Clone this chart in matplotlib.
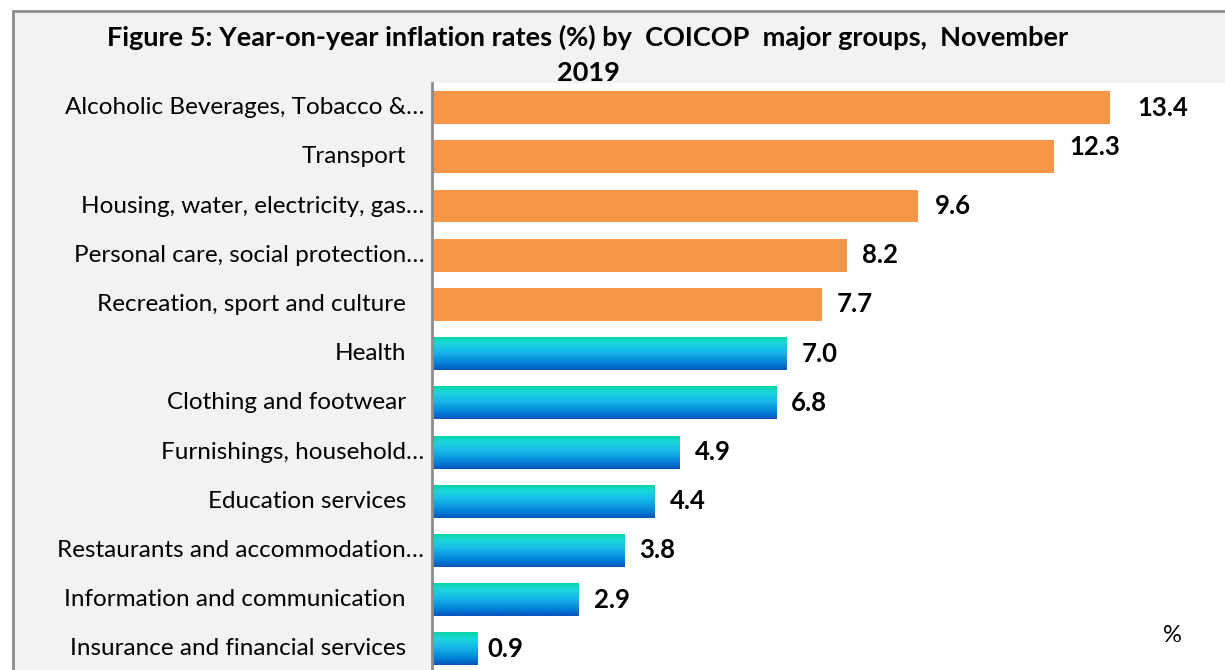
import matplotlib
matplotlib.use("Agg")
import matplotlib.pyplot as plt
import numpy as np
from matplotlib.colors import LinearSegmentedColormap
from matplotlib.patches import Rectangle

categories = [
    "Alcoholic Beverages, Tobacco &…",
    "Transport ",
    "Housing, water, electricity, gas…",
    "Personal care, social protection…",
    "Recreation, sport and culture ",
    "Health ",
    "Clothing and footwear ",
    "Furnishings, household…",
    "Education services ",
    "Restaurants and accommodation…",
    "Information and communication ",
    "Insurance and financial services ",
]
values = [13.4, 12.3, 9.6, 8.2, 7.7, 7.0, 6.8, 4.9, 4.4, 3.8, 2.9, 0.9]
labels = ["13.4", "12.3", "9.6", "8.2", "7.7", "7.0", "6.8", "4.9", "4.4", "3.8", "2.9", "0.9"]
highlight = [True, True, True, True, True, False, False, False, False, False, False, False]
title_line1 = "Figure 5: Year-on-year inflation rates (%) by  COICOP  major groups,  November"
title_line2 = "2019"

W, H = 1225, 670
fig = plt.figure(figsize=(W / 100, H / 100), dpi=100)
fig.patch.set_facecolor("white")

# grey chart box with border
box = Rectangle((13 / W, -0.01), 1.0, (H - 11) / H + 0.01, transform=fig.transFigure,
                facecolor="#f2f2f2", edgecolor="#8c8c8c", linewidth=2, zorder=-5)
fig.patches.append(box)

ax = fig.add_axes([432 / W, 0, (W - 432) / W, (H - 83) / H])
ax.set_zorder(2)
ax.set_facecolor("white")
for s in ["top", "right", "bottom"]:
    ax.spines[s].set_visible(False)
ax.spines["left"].set_color("#8c8c8c")
ax.spines["left"].set_linewidth(2)
ax.set_xticks([])
ax.set_yticks([])

orange = "#f79646"
grad = LinearSegmentedColormap.from_list(
    "g", [(0.0, "#08d4a4"), (0.18, "#1ad8dc"), (0.45, "#16b8e8"), (0.8, "#0480da"), (1.0, "#0456bc")])
gimg = np.linspace(0, 1, 64).reshape(-1, 1)

bh = 0.67
ys = np.arange(len(values))
for y, v, hl in zip(ys, values, highlight):
    if hl:
        ax.barh(y, v, height=bh, color=orange, zorder=2)
    else:
        ax.imshow(gimg, cmap=grad, aspect="auto", interpolation="bilinear",
                  extent=(0, v, y + bh / 2, y - bh / 2), zorder=2)
ax.set_xlim(0, (W - 432) / 50.6)
ax.set_ylim(11.43, -0.5)

# value labels
dx_pts = [20, 11, 12, 11, 11, 11, 11, 11, 11, 11, 11, 7]
dy_pts = [0, 7, 0, 0, 0, 0, 0, 0, 0, 0, 0, 0]
for y, v, lab, dx, dy in zip(ys, values, labels, dx_pts, dy_pts):
    ax.annotate(lab, (v, y), xytext=(dx, dy), textcoords="offset points",
                ha="left", va="center", fontsize=18.5, fontweight="bold",
                family="Lato", color="black", zorder=3)

# category labels
for y, c in zip(ys, categories):
    right = 424 if c.endswith("…") else 406
    ax.annotate(c.rstrip(), (0, y), xytext=(right - 432, 0), textcoords="offset pixels",
                ha="right", va="center", fontsize=17.5, family="Lato", color="black",
                annotation_clip=False)

fig.text(588 / W, 1 - 37 / H, title_line1, ha="center", va="center",
         fontsize=19.5, fontweight="bold", family="Lato")
fig.text(588 / W, 1 - 73 / H, title_line2, ha="center", va="center",
         fontsize=19.5, fontweight="bold", family="Lato")
fig.text(1172 / W, 1 - 635 / H, "%", ha="center", va="center", fontsize=17, family="Lato")

fig.savefig("out.png", dpi=100)
